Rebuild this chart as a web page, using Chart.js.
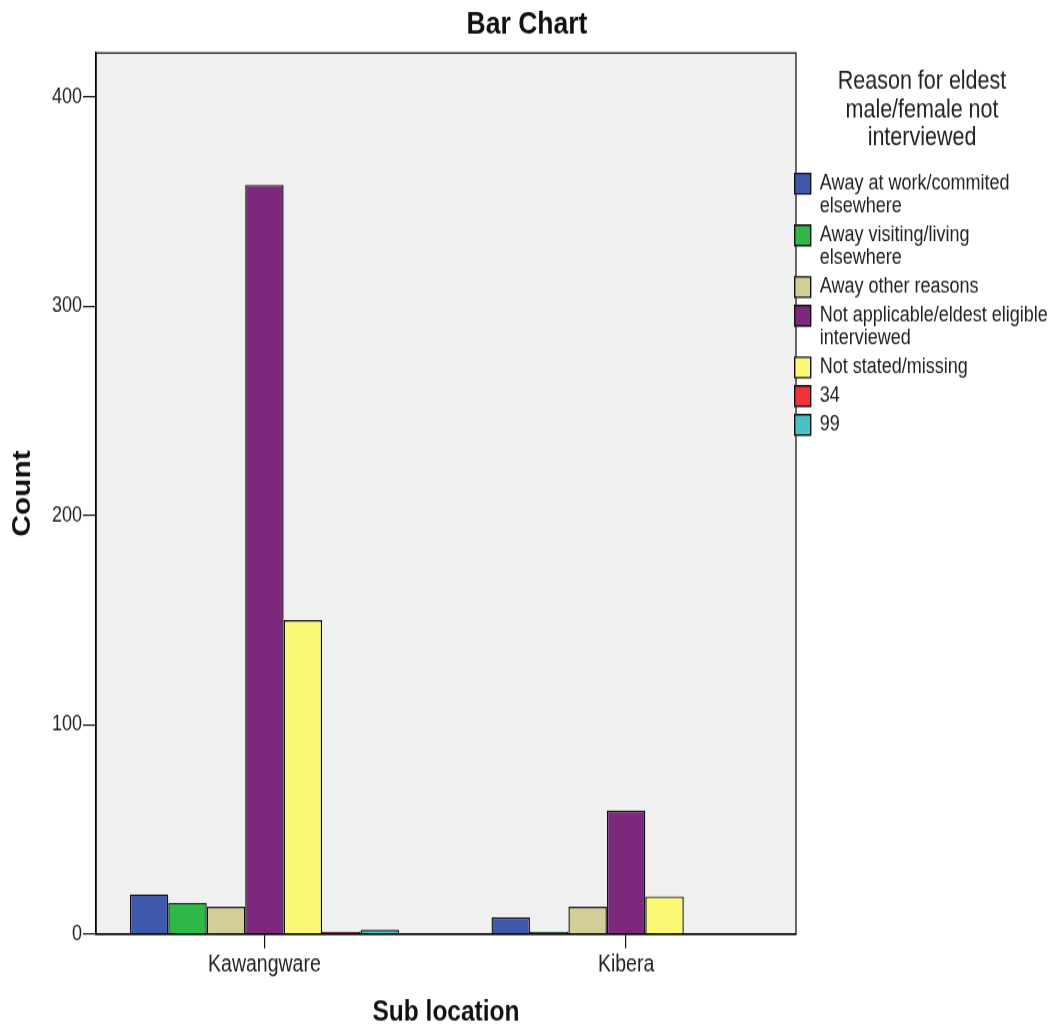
<!DOCTYPE html>
<html><head><meta charset="utf-8">
<script src="https://cdn.jsdelivr.net/npm/chart.js@4/dist/chart.umd.min.js"></script>
<style>
html,body{margin:0;padding:0;background:#fff}
#outer{width:1054px;height:1029px;position:relative;overflow:hidden}
#wrap{position:absolute;left:0;top:0;width:1054px;height:858px;transform:scaleY(1.19930);transform-origin:0 0}
canvas{display:block}
</style></head><body>
<div id="outer"><div id="wrap"><canvas id="c" width="1054" height="858"></canvas></div></div>
<script>
// ---- data ----
const categories = ['Kawangware', 'Kibera'];
const seriesNames = ['Away at work/commited elsewhere', 'Away visiting/living elsewhere', 'Away other reasons',
  'Not applicable/eldest eligible interviewed', 'Not stated/missing', '34', '99'];
const legendLines = [['Away at work/commited', 'elsewhere'], ['Away visiting/living', 'elsewhere'], ['Away other reasons'],
  ['Not applicable/eldest eligible', 'interviewed'], ['Not stated/missing'], ['34'], ['99']];
const awayAtWork = [19, 8];
const awayVisiting = [15, 1];
const awayOther = [13, 13];
const notApplicable = [358, 59];
const notStated = [150, 18];
const code34 = [1, null];
const code99 = [2, null];
const yTicks = [0, 100, 200, 300, 400];
const legendTitle = ['Reason for eldest', 'male/female not', 'interviewed'];

const seriesValues = [awayAtWork, awayVisiting, awayOther, notApplicable, notStated, code34, code99];
const colors = ['#3E58AC', '#2EB848', '#D3CE97', '#7C287D', '#FBF873', '#EF3338', '#48C2C5'];
const FONT = "'Liberation Sans', Arial, sans-serif";

const plotBg = {
  id: 'plotBg',
  beforeDraw(chart) {
    const {ctx, chartArea: a} = chart;
    ctx.save();
    ctx.fillStyle = '#F0F0F0';
    ctx.fillRect(a.left, a.top, a.width, a.height);
    ctx.strokeStyle = '#3a3a3a';
    ctx.lineWidth = 1.5;
    ctx.strokeRect(a.left, a.top, a.width, a.height);
    ctx.restore();
  }
};
const legendShift = {
  id: 'legendShift',
  afterLayout(chart) {
    const lg = chart.legend;
    if (lg) { const nl = lg.left - 6; lg.width = lg.right - nl; lg.left = nl; }
  }
};

new Chart(document.getElementById('c'), {
  type: 'bar',
  data: {
    labels: categories.map((_, i) => i),
    datasets: seriesNames.map((name, i) => ({
      label: name,
      data: seriesValues[i],
      backgroundColor: colors[i],
      borderColor: '#111',
      borderWidth: 1.4,
      borderSkipped: 'start',
      categoryPercentage: 0.7443,
      barPercentage: 1
    }))
  },
  options: {
    responsive: false,
    animation: false,
    devicePixelRatio: 1,
    layout: {padding: 0},
    scales: {
      x: {
        type: 'linear',
        min: -0.4657,
        max: 1.4698,
        offset: false,
        afterBuildTicks: s => { s.ticks = categories.map((_, i) => ({value: i})); },
        afterFit: s => { s.height = 79.2; },
        grid: {display: true, offset: false, drawOnChartArea: false, drawTicks: true, tickLength: 12, color: '#111', lineWidth: 1.2},
        border: {display: true, color: '#000', width: 1.5},
        ticks: {
          callback: v => categories[v],
          font: {family: FONT, size: 19.5, lineHeight: 1.2},
          color: '#222',
          padding: 2.2,
          maxRotation: 0,
          autoSkip: false
        },
        title: {display: true, text: 'Sub location', color: '#111',
          font: {family: FONT, size: 24.5, weight: 'bold', lineHeight: 1.1}, padding: {top: 0, bottom: 0}}
      },
      y: {
        min: 0,
        max: 421,
        afterBuildTicks: s => { s.ticks = yTicks.map(v => ({value: v})); },
        afterFit: s => { s.width = 96; },
        grid: {display: true, drawOnChartArea: false, drawTicks: true, tickLength: 13, color: '#111', lineWidth: 1.2},
        border: {display: true, color: '#000', width: 1.5},
        ticks: {font: {family: FONT, size: 18, lineHeight: 1.2}, color: '#222', padding: 1},
        title: {display: true, text: 'Count', color: '#111',
          font: {family: FONT, size: 25, weight: 'bold', lineHeight: 1.1}, padding: {top: 9.5, bottom: 0}}
      }
    },
    plugins: {
      tooltip: {enabled: false},
      title: {
        display: true, text: 'Bar Chart', color: '#111',
        font: {family: FONT, size: 26.5, weight: 'bold', lineHeight: 1.2},
        padding: {top: 4.3, bottom: 8.1}
      },
      legend: {
        display: true,
        position: 'right',
        align: 'start',
        maxWidth: 258,
        title: {
          display: true, text: legendTitle, position: 'center', color: '#222',
          font: {family: FONT, size: 21.5, lineHeight: 1.086},
          padding: {top: 57.6, bottom: 58.5}
        },
        labels: {
          font: {family: FONT, size: 18, lineHeight: 1.067},
          color: '#222',
          boxWidth: 16,
          boxHeight: 17,
          padding: 4.7,
          generateLabels: chart => Chart.defaults.plugins.legend.labels.generateLabels(chart)
            .map((it, i) => Object.assign(it, {text: legendLines[i]}))
        }
      }
    }
  },
  plugins: [plotBg, legendShift]
});
</script>
</body></html>
